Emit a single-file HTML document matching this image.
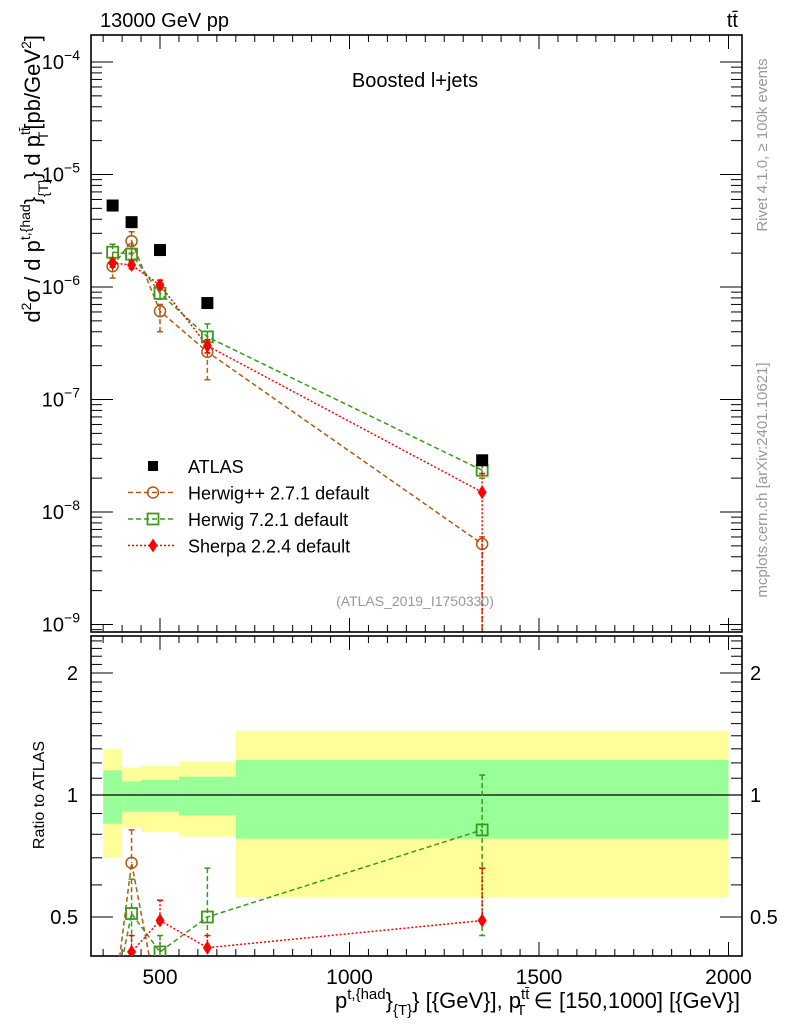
<!DOCTYPE html>
<html><head><meta charset="utf-8">
<style>
body{margin:0;background:#fff;overflow:hidden;}
svg{display:block;font-family:"Liberation Sans",sans-serif;}
</style></head>
<body>
<svg id="c" width="786" height="1024" viewBox="0 0 786 1024"></svg>
<script>
const xCenters=[375,425,500,625,1350];
const binEdges=[350,400,450,550,700,2000];
const atlas=[5.3e-6,3.77e-6,2.13e-6,7.2e-7,2.88e-8];
const herwigpp=[1.53e-6,2.56e-6,6.1e-7,2.65e-7,5.2e-9];
const herwig7=[2.04e-6,1.96e-6,8.8e-7,3.6e-7,2.35e-8];
const sherpa=[1.63e-6,1.57e-6,1.04e-6,3.0e-7,1.5e-8];
const herwigppErrUp=[1.8e-6,3.1e-6,7.0e-7,3.3e-7,6.0e-9];
const herwigppErrDn=[1.2e-6,2.0e-6,4.0e-7,1.5e-7,1e-10];
const herwig7ErrUp=[2.4e-6,2.2e-6,9.8e-7,4.7e-7,2.7e-8];
const herwig7ErrDn=[1.7e-6,1.7e-6,7.8e-7,3.0e-7,2.0e-8];
const sherpaErrUp=[1.75e-6,1.7e-6,1.15e-6,3.4e-7,2.2e-8];
const sherpaErrDn=[1.5e-6,1.45e-6,0.95e-6,2.6e-7,1e-10];
const rHerwigpp=[0.29,0.68,0.29,0.37,0.18];
const rHerwig7=[0.3,0.51,0.41,0.5,0.82];
const rSherpa=[0.3,0.41,0.49,0.42,0.49];
const rHerwigppUp=[0.33,0.82,0.33,0.39,0.21];
const rHerwig7Up=[0.34,0.62,0.45,0.66,1.12];
const rHerwig7Dn=[0.27,0.41,0.37,0.38,0.45];
const rSherpaUp=[0.32,0.45,0.55,0.45,0.66];
const yellowUp=[1.30,1.17,1.18,1.21,1.44];
const greenUp=[1.15,1.08,1.09,1.11,1.22];
const greenDn=[0.85,0.91,0.91,0.89,0.78];
const yellowDn=[0.70,0.83,0.81,0.79,0.56];
const xTicks=[500,1000,1500,2000];
const yDecades=[-4,-5,-6,-7,-8,-9];
const rTicks=[2,1,0.5];

const NS="http://www.w3.org/2000/svg";
const svg=document.getElementById('c');
const L=91,R=742,T=35,MB=632,RT=636,RB=956;
const X=v=>160+(v-500)*0.379;
const Y=v=>62+(-4-Math.log10(v))*112.5;
const RY=r=>795-122*Math.log2(r);
function el(tag,attrs,parent){const e=document.createElementNS(NS,tag);for(const k in attrs)e.setAttribute(k,attrs[k]);(parent||svg).appendChild(e);return e;}
function txt(x,y,s,size,anchor,fill,parent){const t=el('text',{x:x,y:y,'font-size':size,'text-anchor':anchor||'start',fill:fill||'#000'},parent);t.innerHTML=s;return t;}

const defs=el('defs',{});
const c1=el('clipPath',{id:'cm'},defs);el('rect',{x:L,y:T,width:R-L,height:MB-T},c1);
const c2=el('clipPath',{id:'cr'},defs);el('rect',{x:L,y:RT,width:R-L,height:RB-RT},c2);

const bands=el('g',{'clip-path':'url(#cr)'});


for(let i=0;i<xCenters.length;i++){
  const x0=X(binEdges[i]),x1=X(binEdges[i+1]);
  const y=el('rect',{x:x0,y:RY(yellowUp[i]),width:x1-x0,height:RY(yellowDn[i])-RY(yellowUp[i]),fill:'#ffff99'},bands);
  
  
  const g=el('rect',{x:x0,y:RY(greenUp[i]),width:x1-x0,height:RY(greenDn[i])-RY(greenUp[i]),fill:'#99ff99'},bands);
  
  
}
el('line',{x1:L,x2:R,y1:RY(1),y2:RY(1),stroke:'#000','stroke-width':1.2});

const f1=el('rect',{x:L,y:T,width:R-L,height:MB-T,fill:'none',stroke:'#000','stroke-width':1.6});


const f2=el('rect',{x:L,y:RT,width:R-L,height:RB-RT,fill:'none',stroke:'#000','stroke-width':1.6});



for(let v=350;v<=2050;v+=50){
  const x=X(v);if(x<L||x>R)continue;
  const big=v%500===0;const h=big?14:7;
  for(const [yt,yb] of [[T,MB],[RT,RB]]){
    el('line',{x1:x,x2:x,y1:yt,y2:yt+h,stroke:'#000','stroke-width':1});
    el('line',{x1:x,x2:x,y1:yb,y2:yb-h,stroke:'#000','stroke-width':1});
  }
}
xTicks.forEach(v=>{const t=txt(X(v),984,v,21,'middle');});

for(let d=-10;d<=-4;d++){
  for(let m=1;m<10;m++){
    const y=Y(m*Math.pow(10,d));if(y<T||y>MB)continue;
    const w=m===1?22:11;
    el('line',{x1:L,x2:L+w,y1:y,y2:y,stroke:'#000','stroke-width':1});
    el('line',{x1:R,x2:R-w,y1:y,y2:y,stroke:'#000','stroke-width':1});
  }
}
yDecades.forEach(d=>{const t=txt(80,Y(Math.pow(10,d))+7,'10<tspan dy="-9" font-size="14">'+'\u2212'+(-d)+'</tspan>',20,'end');});

[0.4,0.5,0.6,0.7,0.8,0.9,1,1.1,1.2,1.3,1.4,1.5,1.6,1.7,1.8,1.9,2,2.1,2.2,2.3,2.4].forEach(r=>{
  const y=RY(r);if(y<RT||y>RB)return;
  const big=(r===0.5||r===1||r===2);const w=big?22:11;
  el('line',{x1:L,x2:L+w,y1:y,y2:y,stroke:'#000','stroke-width':1});
  el('line',{x1:R,x2:R-w,y1:y,y2:y,stroke:'#000','stroke-width':1});
});
rTicks.forEach(r=>{
  const t1=txt(78,RY(r)+7,r,20,'end');
  const t2=txt(750,RY(r)+7,r,20,'start');
});

function series(name,vals,up,dn,color,dash,marker,yf,clip){
  const g=el('g',{'clip-path':clip});
  
  
  el('polyline',{points:xCenters.map((v,i)=>X(v)+','+yf(vals[i])).join(' '),fill:'none',stroke:color,'stroke-width':1.5,'stroke-dasharray':dash},g);
  xCenters.forEach((v,i)=>{
    const x=X(v),y=yf(vals[i]);
    if(up){const yu=yf(up[i]);el('line',{x1:x,x2:x,y1:yu,y2:y,stroke:color,'stroke-width':1.5,'stroke-dasharray':dash},g);el('line',{x1:x-3,x2:x+3,y1:yu,y2:yu,stroke:color,'stroke-width':1.5},g);}
    if(dn){const yd=yf(dn[i]);el('line',{x1:x,x2:x,y1:y,y2:yd,stroke:color,'stroke-width':1.5,'stroke-dasharray':dash},g);el('line',{x1:x-3,x2:x+3,y1:yd,y2:yd,stroke:color,'stroke-width':1.5},g);}
    drawMarker(marker,x,y,color,g);
  });
}
function drawMarker(m,x,y,color,g){
  if(m==='circle')el('circle',{cx:x,cy:y,r:5.5,fill:'none',stroke:color,'stroke-width':1.5},g);
  else if(m==='square')el('rect',{x:x-5.5,y:y-5.5,width:11,height:11,fill:'none',stroke:color,'stroke-width':1.8},g);
  else if(m==='diamond')el('polygon',{points:`${x},${y-7} ${x+4.5},${y} ${x},${y+7} ${x-4.5},${y}`,fill:color},g);
  else if(m==='fsquare')el('rect',{x:x-6,y:y-6,width:12,height:12,fill:color},g);
}
series('herwigpp-series',herwigpp,herwigppErrUp,herwigppErrDn,'#b05a14','5,3','circle',Y,'url(#cm)');
series('herwig7-series',herwig7,herwig7ErrUp,herwig7ErrDn,'#3a9a1a','5,3','square',Y,'url(#cm)');
series('sherpa-series',sherpa,sherpaErrUp,sherpaErrDn,'#ff0000','2,2','diamond',Y,'url(#cm)');
const ag=el('g',{'clip-path':'url(#cm)'});


xCenters.forEach((v,i)=>drawMarker('fsquare',X(v),Y(atlas[i]),'#000',ag));

series('herwigpp-ratio',rHerwigpp,rHerwigppUp,null,'#b05a14','5,3','circle',RY,'url(#cr)');
series('herwig7-ratio',rHerwig7,rHerwig7Up,rHerwig7Dn,'#3a9a1a','5,3','square',RY,'url(#cr)');
series('sherpa-ratio',rSherpa,rSherpaUp,null,'#ff0000','2,2','diamond',RY,'url(#cr)');

const lg=el('g',{});


const leg=[['ATLAS','fsquare','#000',null],['Herwig++ 2.7.1 default','circle','#b05a14','5,3'],['Herwig 7.2.1 default','square','#3a9a1a','5,3'],['Sherpa 2.2.4 default','diamond','#ff0000','2,2']];
leg.forEach((e,i)=>{
  const y=466+i*26.5;
  const g=el('g',{},lg);
  
  
  if(e[3])el('line',{x1:128,x2:176,y1:y,y2:y,stroke:e[2],'stroke-width':1.5,'stroke-dasharray':e[3]},g);
  drawMarker(e[1],153,y,e[2],g);
  if(e[1]==='fsquare'){g.lastChild.setAttribute('width',10);g.lastChild.setAttribute('height',10);g.lastChild.setAttribute('x',148);g.lastChild.setAttribute('y',y-5);}
  txt(188,y+7,e[0],18,'start','#000',g);
});

const t1=txt(100,27,'13000 GeV pp',20);
const t2=txt(738,27,'tt̄',20,'end');
const t3=txt(415,87,'Boosted l+jets',20,'middle');
const t4=txt(415,606,'(ATLAS_2019_I1750330)',14,'middle','#999');
const t5=txt(0,0,'Rivet 4.1.0, \u2265 100k events',15,'middle','#999');t5.setAttribute('transform','translate(767,145) rotate(-90)');
const t6=txt(0,0,'mcplots.cern.ch [arXiv:2401.10621]',15,'middle','#999');t6.setAttribute('transform','translate(767,480) rotate(-90)');
const t7=txt(0,0,'d<tspan dy="-9" font-size="14">2</tspan><tspan dy="9">σ / d p</tspan><tspan dy="-10" font-size="14">t,{had</tspan><tspan dy="10">}</tspan><tspan dy="8" font-size="14">{T}</tspan><tspan dy="-8">} d p</tspan><tspan dy="-10" font-size="14">tt̄</tspan><tspan dy="18" dx="-13" font-size="14">T</tspan><tspan dy="-8" dx="2">[pb/GeV</tspan><tspan dy="-9" font-size="14">2</tspan><tspan dy="9">]</tspan>',22,'end');
t7.setAttribute('transform','translate(40,35) rotate(-90)');
const t8=txt(0,0,'Ratio to ATLAS',16,'middle');t8.setAttribute('transform','translate(44,795) rotate(-90)');
const t9=txt(740,1008,'p<tspan dy="-9" font-size="15">t,{had</tspan><tspan dy="9">}</tspan><tspan dy="7" font-size="15">{T}</tspan><tspan dy="-7">} [{GeV}], p</tspan><tspan dy="-9" font-size="15">tt̄</tspan><tspan dy="16" dx="-13" font-size="15">T</tspan><tspan dy="-7" dx="2"> ∈ [150,1000] [{GeV}]</tspan>',22,'end');

</script>
</body></html>
